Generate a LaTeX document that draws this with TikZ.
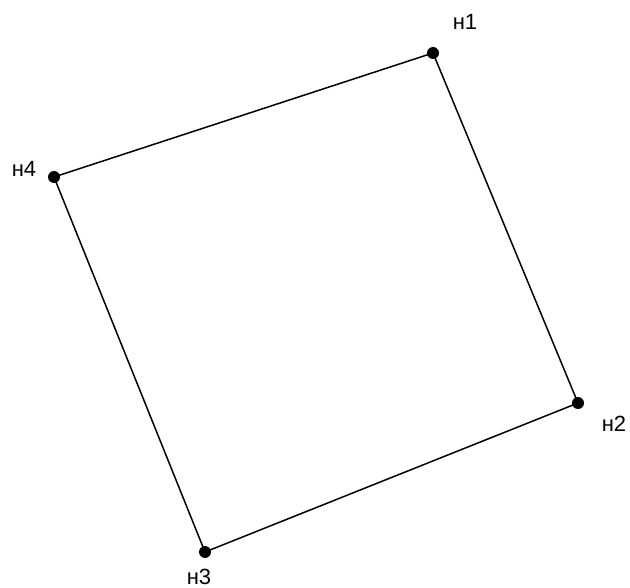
\documentclass[tikz,border=0pt]{standalone}
\usepackage{fontspec}
\setmainfont{Liberation Sans}
\begin{document}
\begin{tikzpicture}[x=1pt,y=-1pt,
  vert/.style={circle,fill=black,inner sep=0pt,minimum size=12pt},
  lbl/.style={font=\fontsize{22}{22}\selectfont,inner sep=0pt},
  edge/.style={line width=1.5pt}]
\useasboundingbox (0,0) rectangle (630,588);
\node[vert] (n1) at (433,53) {};
\node[vert] (n2) at (578,403) {};
\node[vert] (n3) at (205,552) {};
\node[vert] (n4) at (54,177) {};
\node[lbl] (l1) at (465,22) {н1};
\node[lbl] (l2) at (614,424) {н2};
\node[lbl] (l3) at (199,577) {н3};
\node[lbl] (l4) at (24,169) {н4};
\draw[edge] (n1.center) -- (n2.center) -- (n3.center) -- (n4.center) -- (n1.center);
\end{tikzpicture}
\end{document}
